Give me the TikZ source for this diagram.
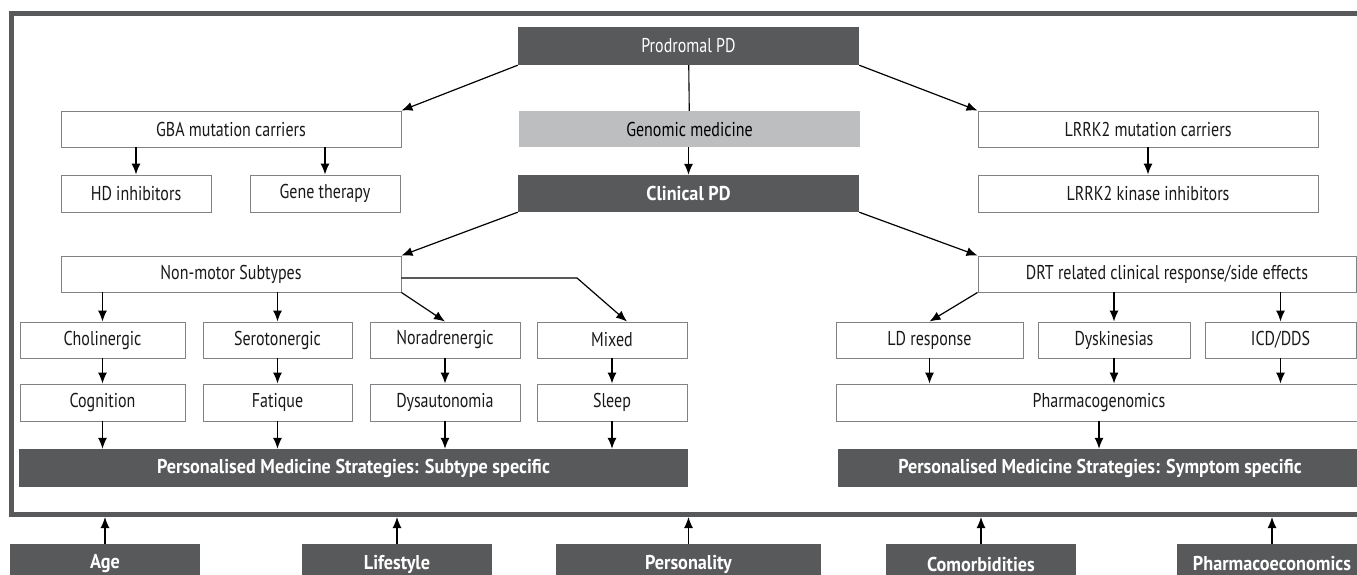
\documentclass[tikz,border=0pt]{standalone}
\usepackage{fontspec}
\setmainfont{PT Sans}[FakeStretch=0.8]
\newfontfamily\barfont{PT Sans}[FakeStretch=0.91]
\usetikzlibrary{arrows.meta}
\definecolor{pdgrey}{HTML}{58595B}
\definecolor{pdlight}{HTML}{BCBEC0}
\definecolor{pdline}{HTML}{808285}

\begin{document}
\begin{tikzpicture}[x=1pt,y=-1pt,
  every node/.style={rectangle,inner sep=0pt,font=\fontsize{20}{22}\selectfont},
  box/.style={draw=pdline,line width=0.9pt,fill=white,text=black!90},
  darkbox/.style={fill=pdgrey,text=white},
  bar/.style={fill=pdgrey,text=white,font=\fontsize{20}{22}\barfont\bfseries},
  arr/.style={-{Latex[length=11pt,width=9pt]},line width=1.2pt}]
  \useasboundingbox (0,0) rectangle (1357,575);

  \node[draw=pdgrey,line width=5pt,minimum width=1358,minimum height=500.5] (frame) at (690.5,264.25) {};

  \node[darkbox,minimum width=341,minimum height=38] (prod) at (688.5,46) {Prodromal PD};
  \node[fill=pdlight,minimum width=341,minimum height=36] (gen) at (689.5,129) {Genomic medicine};
  \node[bar,minimum width=341,minimum height=37] (clin) at (688.5,193.5) {Clinical PD};
  \node[box,minimum width=340,minimum height=36] (gba) at (231,129) {GBA mutation carriers};
  \node[box,minimum width=150,minimum height=37] (hdi) at (136,193.5) {HD inhibitors};
  \node[box,minimum width=150,minimum height=37] (gene) at (325,193.5) {Gene therapy};
  \node[box,minimum width=340,minimum height=36] (lrrk) at (1148,129) {LRRK2 mutation carriers};
  \node[box,minimum width=340,minimum height=37] (lki) at (1148,193.5) {LRRK2 kinase inhibitors};

  \node[box,minimum width=340,minimum height=36] (nms) at (231,274) {Non-motor Subtypes};
  \node[box,minimum width=378,minimum height=36] (drt) at (1167,274) {DRT related clinical response/side effects};

  \node[box,minimum width=165,minimum height=36] (chol) at (102.5,340) {Cholinergic};
  \node[box,minimum width=149,minimum height=36] (sero) at (277.5,340) {Serotonergic};
  \node[box,minimum width=150,minimum height=36] (nora) at (445,340) {Noradrenergic};
  \node[box,minimum width=150,minimum height=36] (mixed) at (612,340) {Mixed};
  \node[box,minimum width=187,minimum height=36] (ldr) at (929.5,340) {LD response};
  \node[box,minimum width=152,minimum height=36] (dysk) at (1114,340) {Dyskinesias};
  \node[box,minimum width=151,minimum height=36] (icd) at (1280.5,340) {ICD/DDS};

  \node[box,minimum width=165,minimum height=37] (cogn) at (102.5,402.5) {Cognition};
  \node[box,minimum width=149,minimum height=37] (fatq) at (277.5,402.5) {Fatique};
  \node[box,minimum width=150,minimum height=37] (dysa) at (445,402.5) {Dysautonomia};
  \node[box,minimum width=150,minimum height=37] (sleep) at (612,402.5) {Sleep};
  \node[box,minimum width=526,minimum height=37] (pgx) at (1099,402.5) {Pharmacogenomics};

  \node[bar,minimum width=669,minimum height=38] (subbar) at (353.5,468) {Personalised Medicine Strategies: Subtype specific};
  \node[bar,minimum width=524,minimum height=38] (symbar) at (1100,468) {Personalised Medicine Strategies: Symptom specific};

  \node[bar,minimum width=190,minimum height=40] (age) at (105,564) {Age};
  \node[bar,minimum width=190,minimum height=40] (life) at (397,564) {Lifestyle};
  \node[bar,minimum width=265,minimum height=40] (pers) at (688.5,564) {Personality};
  \node[bar,minimum width=190,minimum height=40] (comor) at (981,564) {Comorbidities};
  \node[bar,minimum width=190,minimum height=40] (phec) at (1272,564) {Pharmacoeconomics};

  \draw[line width=1.1pt] (prod) -- (gen);
  \draw[arr] (prod.south west) -- (gba.north east);
  \draw[arr] (prod.south east) -- (lrrk.north west);
  \draw[arr] (clin.south west) -- (nms.north east);
  \draw[arr] (clin.south east) -- (drt.north west);
  \draw[arr] (nms.south east) -- (nora.north);
  \draw[arr] (drt.south west) -- (ldr.north);
  \coordinate (mbend) at (577,278);
  \draw[arr] (nms.east |- mbend) -- (mbend) -- ([xshift=15]mixed.north);

  \foreach \from/\to in {gen/clin,gba/hdi,gba/gene,lrrk/lki,nms/chol,nms/sero,drt/dysk,drt/icd}
    \draw[arr] (\from.south -| \to) -- (\to);
  \foreach \from/\to in {chol/cogn,sero/fatq,nora/dysa,mixed/sleep,ldr/pgx,dysk/pgx,icd/pgx,cogn/subbar,fatq/subbar,dysa/subbar,sleep/subbar,pgx/symbar}
    \draw[arr] (\from) -- (\from |- \to.north);
  \foreach \n in {age,life,pers,comor,phec}
    \draw[arr] (\n) -- (\n |- frame.south);
\end{tikzpicture}
\end{document}
